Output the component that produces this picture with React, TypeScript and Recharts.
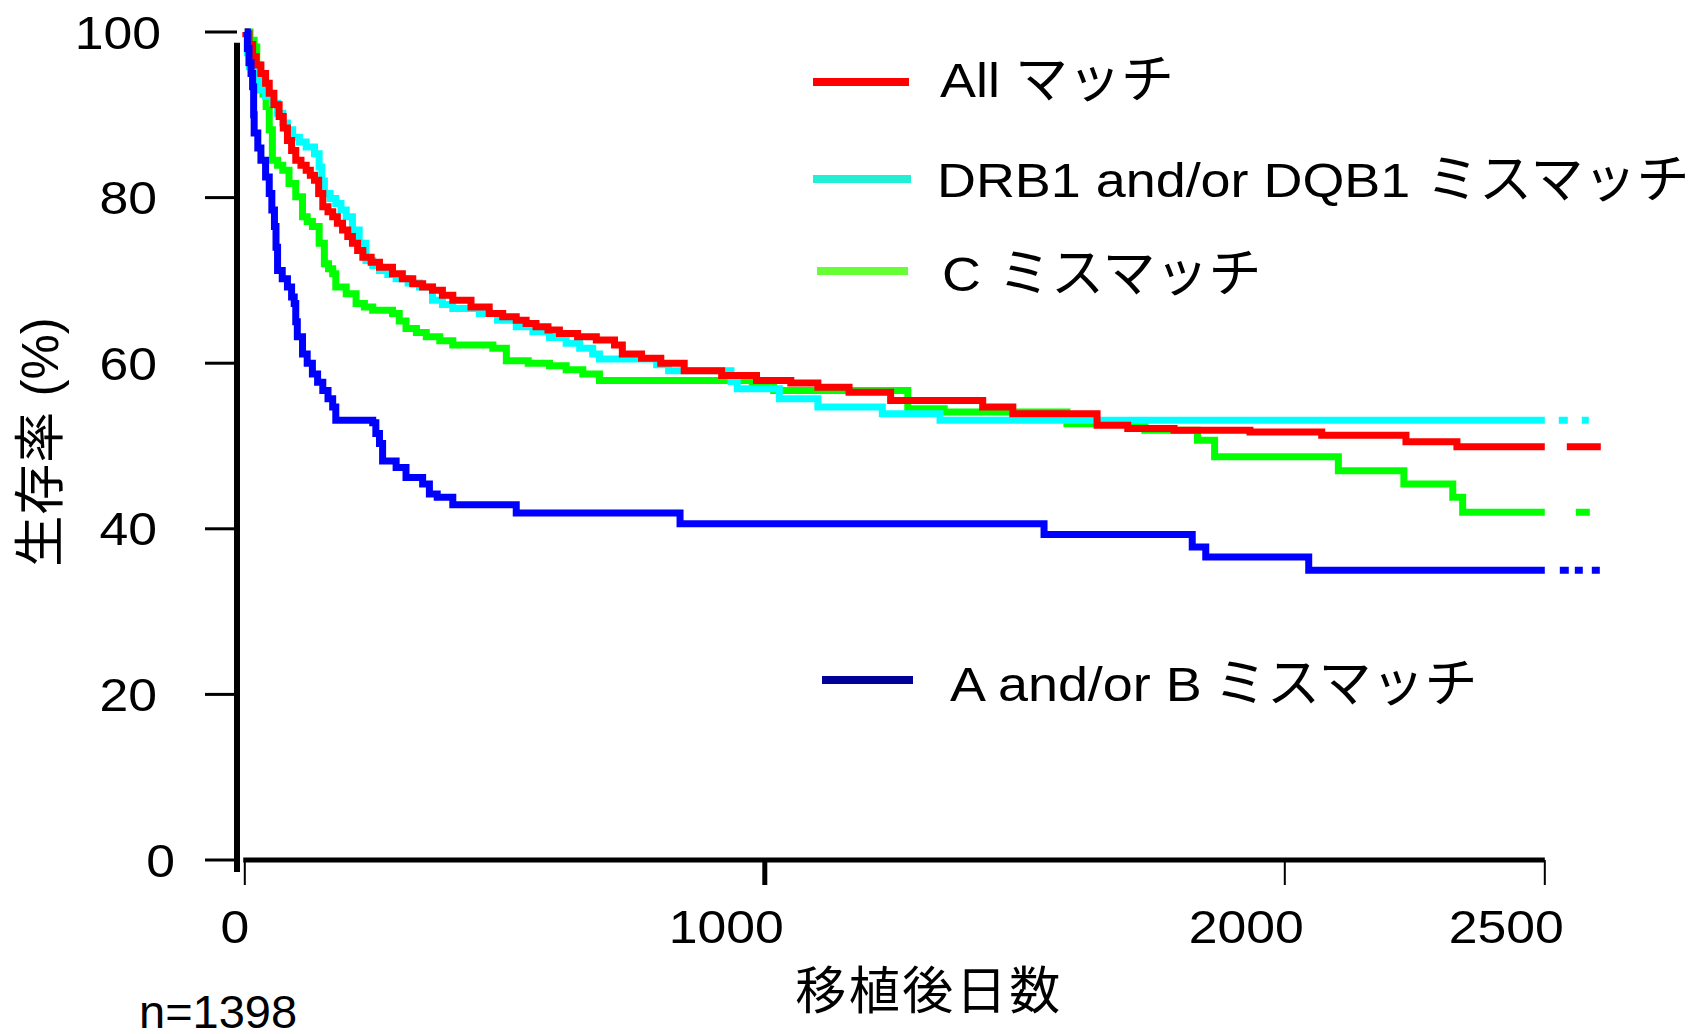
import React from 'react'
import { LineChart, Line, XAxis, YAxis, ReferenceLine } from 'recharts'

// Kaplan-Meier style survival curves (days after transplant vs survival %)
const ALL_DAYS = [0, 2, 8, 15, 22, 31, 40, 47, 56, 66, 74, 82, 90, 98, 108, 118, 126, 134, 142, 150, 160, 169, 178, 188, 198, 207, 217, 227, 243, 259, 284, 303, 323, 342, 361, 380, 400, 435, 470, 496, 522, 541, 560, 583, 605, 640, 676, 711, 726, 763, 800, 845, 917, 984, 1050, 1102, 1162, 1242, 1419, 1477, 1639, 1698, 1787, 1933, 2071, 2233, 2331, 2500]
const ALL_SURV = [100, 99.8, 98.5, 97, 96, 95, 93.8, 92.6, 91.2, 89.8, 88.4, 86.9, 85.7, 84.5, 83.9, 83.3, 82.7, 82.1, 80.5, 78.9, 78.3, 77.7, 76.9, 76.1, 75.3, 74.5, 73.6, 72.8, 72.2, 71.6, 70.8, 70.2, 69.6, 69.2, 68.8, 68.2, 67.6, 66.8, 66.0, 65.6, 65.2, 64.8, 64.4, 64.0, 63.6, 63.2, 62.8, 62.2, 61.1, 60.6, 60.0, 59.1, 58.5, 57.9, 57.6, 57.1, 56.5, 55.5, 54.7, 53.9, 52.5, 52.1, 51.9, 51.7, 51.3, 50.5, 49.9, 49.9]

const DRB_DAYS = [0, 5, 9, 18, 28, 40, 53, 63, 73, 82, 92, 105, 118, 134, 143, 148, 153, 164, 175, 185, 195, 207, 220, 233, 246, 259, 275, 291, 314, 336, 361, 380, 400, 451, 486, 522, 554, 586, 618, 644, 669, 682, 792, 815, 935, 947, 1028, 1102, 1226, 1337, 2500]
const DRB_SURV = [100, 97.5, 95.8, 94.5, 93, 92.2, 91.4, 90.2, 89, 88.2, 87.3, 86.7, 86.1, 85.3, 83.7, 82, 80.5, 79.9, 79.3, 78.5, 77.7, 76.1, 74.5, 72.4, 71.8, 71.2, 70.7, 70.2, 69.7, 69.2, 67.6, 67.1, 66.6, 66.0, 65.2, 64.4, 63.8, 63.1, 62.4, 61.8, 61.1, 60.5, 59.8, 59.1, 57.8, 56.9, 55.7, 54.7, 53.9, 53.1, 53.1]

const C_DAYS = [0, 5, 10, 18, 23, 28, 35, 41, 47, 53, 63, 73, 85, 98, 111, 120, 130, 143, 153, 161, 169, 175, 195, 214, 230, 246, 284, 297, 310, 330, 349, 375, 400, 477, 503, 545, 586, 618, 650, 682, 976, 1017, 1275, 1345, 1581, 1731, 1832, 1865, 2103, 2229, 2323, 2342, 2500]
const C_SURV = [100, 100, 99, 98.2, 96, 94.2, 92.5, 91, 88.2, 84.5, 83.9, 83.3, 81.7, 80.1, 77.7, 77.1, 76.5, 74.5, 72, 71.4, 70.8, 69.2, 68.4, 67.2, 66.8, 66.4, 66.0, 65.1, 64.2, 63.7, 63.2, 62.7, 62.2, 61.8, 60.3, 60.0, 59.7, 59.2, 58.7, 57.9, 57.3, 56.7, 54.5, 54.1, 52.7, 51.9, 50.7, 48.7, 47.0, 45.4, 43.8, 42.0, 42.0]

const AB_DAYS = [0, 5, 8, 12, 15, 17, 18, 25, 31, 40, 47, 52, 57, 60, 63, 72, 82, 90, 95, 98, 101, 111, 120, 130, 140, 150, 160, 169, 175, 246, 252, 259, 265, 291, 310, 342, 355, 370, 400, 522, 837, 1537, 1822, 1848, 2046, 2500]
const AB_SURV = [100, 98, 96.3, 95, 93.4, 90, 87.8, 86, 84.5, 82.5, 80.5, 78.5, 76.5, 74, 71.2, 70.2, 69.2, 68, 67.2, 65, 63.2, 61.1, 60, 58.7, 57.7, 56.7, 55.7, 54.7, 53.1, 52.8, 51.5, 50.3, 48.2, 47.4, 46.2, 45.4, 44.2, 43.8, 42.9, 41.9, 40.6, 39.3, 37.8, 36.6, 35.0, 35.0]

// dotted tails drawn past the last tick
const TAIL_DAYS = [2500, 2610]

const X_TICKS = [0, 1000, 2000, 2500]
const Y_TICKS = [0, 20, 40, 60, 80, 100]

const LATIN = "'Liberation Sans', Arial, sans-serif"
const CJK = "'Noto Sans CJK JP', sans-serif"

const toPoints = (days: number[], surv: number[]) =>
  days.map((day, i) => ({ day, surv: surv[i] }))

const tail = (surv: number[]) =>
  TAIL_DAYS.map((day) => ({ day, surv: surv[surv.length - 1] }))

const SERIES = [
  { key: 'c', days: C_DAYS, surv: C_SURV, color: '#00ff00', dash: '0 31 14 200' },
  { key: 'drb', days: DRB_DAYS, surv: DRB_SURV, color: '#00ffff', dash: '0 14 9 14 7 200' },
  { key: 'all', days: ALL_DAYS, surv: ALL_SURV, color: '#ff0000', dash: '0 22 34 200' },
  { key: 'ab', days: AB_DAYS, surv: AB_SURV, color: '#0000ff', dash: '0 15 9 6 8 9 8 200' },
]

const LEGEND = [
  { latin: 'All', kana: 'マッチ', color: '#ff0000', sx1: 813, sx2: 909, sy: 82, tx: 940, kx: 1015, base: 97 },
  { latin: 'DRB1 and/or DQB1', kana: 'ミスマッチ', color: '#22f0d4', sx1: 813, sx2: 911, sy: 179, tx: 937, kx: 1426, base: 197 },
  { latin: 'C', kana: 'ミスマッチ', color: '#66ff33', sx1: 817, sx2: 908, sy: 271, tx: 942, kx: 998, base: 291 },
  { latin: 'A and/or B', kana: 'ミスマッチ', color: '#000099', sx1: 822, sx2: 913, sy: 680, tx: 950, kx: 1214, base: 701 },
]

const XTick = ({ x, y, payload }: any) => {
  const v = payload.value
  const dx = v === 0 ? -10 : -38.5
  return (
    <g>
      <line x1={x} x2={x} y1={y} y2={y + 25} stroke="#000" strokeWidth={v === 1000 ? 5 : 2} />
      <text
        transform={`translate(${x + dx},${y + 83}) scale(1.1,1)`}
        textAnchor="middle"
        fontSize={47}
        fontFamily={LATIN}
        fill="#000"
      >
        {v}
      </text>
    </g>
  )
}

const YTick = ({ y, payload }: any) => {
  const v = payload.value
  const right = v === 0 ? 175 : v === 100 ? 161 : 157
  return (
    <text
      transform={`translate(${right},${y}) scale(1.1,1)`}
      textAnchor="end"
      dy="0.355em"
      fontSize={47}
      fontFamily={LATIN}
      fill="#000"
    >
      {v}
    </text>
  )
}

export default function App() {
  return (
    <div
      style={{
        position: 'absolute',
        left: 0,
        top: 0,
        width: 1689,
        height: 1034,
        background: '#fff',
        overflow: 'hidden',
      }}
    >
      <LineChart width={1689} height={1034} margin={{ top: 32, right: 87, bottom: 0, left: 0 }}>
        <XAxis
          type="number"
          dataKey="day"
          domain={[-15, 2610]}
          ticks={X_TICKS}
          interval={0}
          axisLine={false}
          tickLine={false}
          tickSize={0}
          tickMargin={0}
          height={174}
          tick={(p: any) => <XTick {...p} />}
        />
        <YAxis
          type="number"
          domain={[0, 100]}
          ticks={Y_TICKS}
          interval={0}
          width={237}
          axisLine={false}
          tickLine={{ stroke: '#000', strokeWidth: 3 }}
          tickSize={32}
          tickMargin={0}
          tick={(p: any) => <YTick {...p} />}
        />
        <ReferenceLine
          segment={[{ x: -15, y: 98.7 }, { x: -15, y: -1.45 }]}
          stroke="#000"
          strokeWidth={6}
          ifOverflow="visible"
        />
        <ReferenceLine
          segment={[{ x: -3, y: 0 }, { x: 2500, y: 0 }]}
          stroke="#000"
          strokeWidth={5}
          ifOverflow="visible"
        />
        {SERIES.map((s) => (
          <Line
            key={s.key}
            data={toPoints(s.days, s.surv)}
            dataKey="surv"
            type="stepAfter"
            stroke={s.color}
            strokeWidth={7}
            dot={false}
            activeDot={false}
            isAnimationActive={false}
          />
        ))}
        {SERIES.map((s) => (
          <Line
            key={s.key + '-tail'}
            data={tail(s.surv)}
            dataKey="surv"
            type="linear"
            stroke={s.color}
            strokeWidth={7}
            strokeDasharray={s.dash}
            dot={false}
            activeDot={false}
            isAnimationActive={false}
          />
        ))}
      </LineChart>

      <svg
        width={1689}
        height={1034}
        style={{ position: 'absolute', left: 0, top: 0, pointerEvents: 'none' }}
      >
        {LEGEND.map((l) => (
          <g key={l.latin}>
            <line x1={l.sx1} x2={l.sx2} y1={l.sy} y2={l.sy} stroke={l.color} strokeWidth={8} />
            <text
              transform={`translate(${l.tx},${l.base}) scale(1.1,1)`}
              fontSize={49}
              fontFamily={LATIN}
              fill="#000"
            >
              {l.latin}
            </text>
            <text x={l.kx} y={l.base + 1} fontSize={53} fontFamily={CJK} fill="#000">
              {l.kana}
            </text>
          </g>
        ))}
        <text
          transform="translate(58,442) rotate(-90)"
          textAnchor="middle"
          fontSize={51}
          fontFamily={`'Liberation Sans', 'Noto Sans CJK JP', sans-serif`}
          fill="#000"
        >
          <tspan fontFamily={CJK} letterSpacing={1}>生存率</tspan>
          <tspan> (%)</tspan>
        </text>
        <text x={929} y={1009} textAnchor="middle" fontSize={51} fontFamily={CJK} letterSpacing={2.5} fill="#000">
          移植後日数
        </text>
        <text x={139} y={1028} fontSize={47} fontFamily={LATIN} fill="#000">
          n=1398
        </text>
      </svg>
    </div>
  )
}
